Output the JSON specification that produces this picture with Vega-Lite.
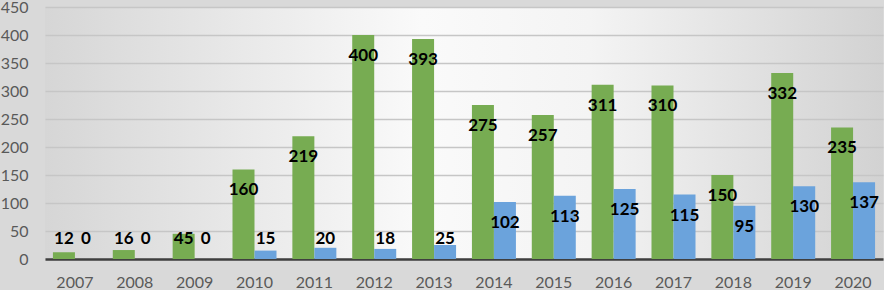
{
  "$schema": "https://vega.github.io/schema/vega-lite/v6.json",
  "width": 838,
  "height": 252,
  "autosize": {"type": "none"},
  "padding": {"left": 45, "top": 7, "right": 1, "bottom": 31},
  "background": "#d9d9d9",
  "config": {
    "font": "Lato",
    "view": {
      "stroke": null,
      "fill": {
        "gradient": "linear",
        "x1": 0, "y1": 0, "x2": 1, "y2": 0,
        "stops": [
          {"offset": 0, "color": "#d6d6d6"},
          {"offset": 0.45, "color": "#fafafa"},
          {"offset": 0.65, "color": "#f4f4f4"},
          {"offset": 1, "color": "#d2d2d2"}
        ]
      }
    }
  },
  "data": {
    "values": [
      {"year": "2007", "series": "Series 1", "value": 12},
      {"year": "2007", "series": "Series 2", "value": 0},
      {"year": "2008", "series": "Series 1", "value": 16},
      {"year": "2008", "series": "Series 2", "value": 0},
      {"year": "2009", "series": "Series 1", "value": 45},
      {"year": "2009", "series": "Series 2", "value": 0},
      {"year": "2010", "series": "Series 1", "value": 160},
      {"year": "2010", "series": "Series 2", "value": 15},
      {"year": "2011", "series": "Series 1", "value": 219},
      {"year": "2011", "series": "Series 2", "value": 20},
      {"year": "2012", "series": "Series 1", "value": 400},
      {"year": "2012", "series": "Series 2", "value": 18},
      {"year": "2013", "series": "Series 1", "value": 393},
      {"year": "2013", "series": "Series 2", "value": 25},
      {"year": "2014", "series": "Series 1", "value": 275},
      {"year": "2014", "series": "Series 2", "value": 102},
      {"year": "2015", "series": "Series 1", "value": 257},
      {"year": "2015", "series": "Series 2", "value": 113},
      {"year": "2016", "series": "Series 1", "value": 311},
      {"year": "2016", "series": "Series 2", "value": 125},
      {"year": "2017", "series": "Series 1", "value": 310},
      {"year": "2017", "series": "Series 2", "value": 115},
      {"year": "2018", "series": "Series 1", "value": 150},
      {"year": "2018", "series": "Series 2", "value": 95},
      {"year": "2019", "series": "Series 1", "value": 332},
      {"year": "2019", "series": "Series 2", "value": 130},
      {"year": "2020", "series": "Series 1", "value": 235},
      {"year": "2020", "series": "Series 2", "value": 137}
    ]
  },
  "encoding": {
    "x": {
      "field": "year", "type": "nominal",
      "scale": {"paddingInner": 0.265, "paddingOuter": 0.1325},
      "axis": {
        "title": null, "labelAngle": 0, "ticks": false,
        "domainColor": "#3f3f3f", "domainWidth": 2.5,
        "labelFontSize": 16, "labelColor": "#595959", "labelPadding": 15,
        "labelBaseline": "top", "grid": false
      }
    },
    "xOffset": {"field": "series", "type": "nominal", "scale": {"paddingInner": 0}},
    "y": {
      "field": "value", "type": "quantitative",
      "scale": {"domain": [0, 450]},
      "axis": {
        "title": null, "values": [0, 50, 100, 150, 200, 250, 300, 350, 400, 450],
        "domain": false, "ticks": false,
        "gridColor": "#c6c6c6", "gridWidth": 1.5,
        "labelFontSize": 16, "labelColor": "#595959", "labelPadding": 17
      }
    }
  },
  "layer": [
    {
      "mark": {"type": "bar"},
      "encoding": {
        "color": {
          "field": "series", "type": "nominal",
          "scale": {"range": ["#77ac52", "#6ba3dc"]},
          "legend": null
        }
      }
    },
    {
      "transform": [{"filter": "datum.value >= 70"}],
      "mark": {"type": "text", "baseline": "middle", "dy": 21, "fontWeight": "bold", "fontSize": 17, "color": "#000000"},
      "encoding": {"text": {"field": "value", "type": "quantitative"}}
    },
    {
      "transform": [{"filter": "datum.value < 70"}],
      "mark": {"type": "text", "baseline": "middle", "fontWeight": "bold", "fontSize": 17, "color": "#000000"},
      "encoding": {
        "y": {"datum": 35, "type": "quantitative"},
        "text": {"field": "value", "type": "quantitative"}
      }
    }
  ]
}
